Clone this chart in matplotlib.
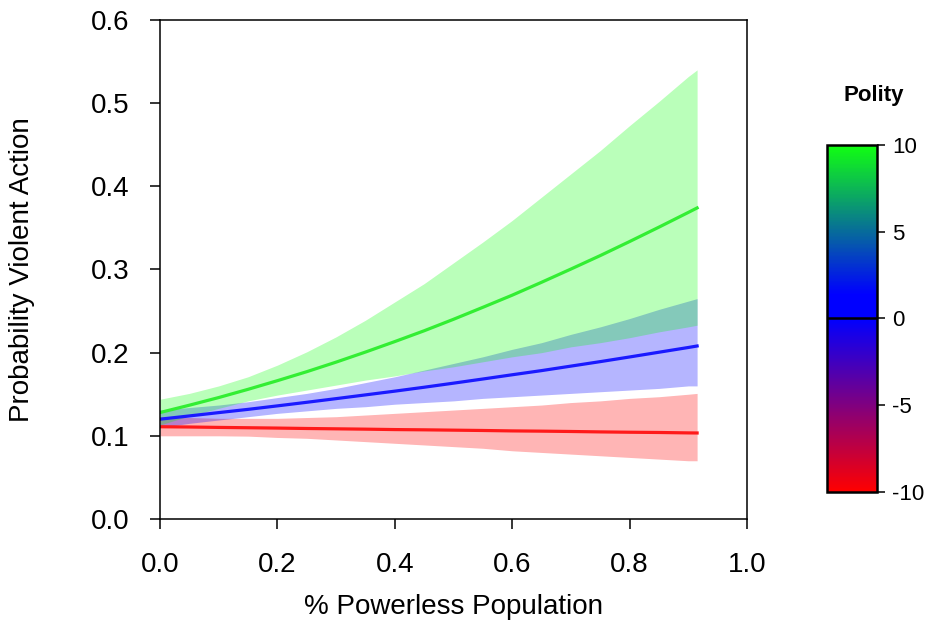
import numpy as np
import matplotlib
matplotlib.use("Agg")
import matplotlib.pyplot as plt
from matplotlib.colors import LinearSegmentedColormap, Normalize
from matplotlib.cm import ScalarMappable

plt.rcParams['font.family'] = ['Liberation Sans', 'DejaVu Sans']

# % powerless population
x = [0.0, 0.05, 0.1, 0.15, 0.2, 0.25, 0.3, 0.35, 0.4, 0.45, 0.5,
     0.55, 0.6, 0.65, 0.7, 0.75, 0.8, 0.85, 0.9, 0.915]

# polity = -10 (vermelho)
red_mid = [0.1109, 0.1106, 0.1101, 0.1097, 0.1093, 0.1088, 0.1084, 0.1080, 0.1075, 0.1072,
           0.1068, 0.1064, 0.1059, 0.1056, 0.1052, 0.1047, 0.1043, 0.1040, 0.1035, 0.1034]
red_lo = [0.100, 0.100, 0.100, 0.0996, 0.098, 0.097, 0.095, 0.093, 0.091, 0.089, 0.087,
          0.085, 0.082, 0.080, 0.078, 0.076, 0.074, 0.072, 0.070, 0.070]
red_hi = [0.123, 0.122, 0.121, 0.121, 0.121, 0.122, 0.123, 0.125, 0.127, 0.129, 0.131,
          0.133, 0.135, 0.137, 0.140, 0.142, 0.145, 0.147, 0.150, 0.151]

# polity = 0 (azul)
blue_mid = [0.1200, 0.1239, 0.1279, 0.1318, 0.1360, 0.1403, 0.1447, 0.1492, 0.1537, 0.1584,
            0.1633, 0.1683, 0.1734, 0.1784, 0.1838, 0.1892, 0.1948, 0.2005, 0.2062, 0.2080]
blue_lo = [0.110, 0.115, 0.119, 0.123, 0.127, 0.130, 0.133, 0.135, 0.138, 0.140, 0.142,
           0.145, 0.147, 0.149, 0.151, 0.153, 0.155, 0.157, 0.160, 0.160]
blue_hi = [0.131, 0.134, 0.137, 0.141, 0.146, 0.151, 0.157, 0.164, 0.171, 0.179, 0.187,
           0.195, 0.204, 0.212, 0.222, 0.231, 0.241, 0.252, 0.262, 0.265]

# polity = 10 (verde)
green_mid = [0.1280, 0.1368, 0.1460, 0.1559, 0.1663, 0.1771, 0.1886, 0.2007, 0.2133, 0.2263,
             0.2401, 0.2545, 0.2691, 0.2846, 0.3005, 0.3167, 0.3336, 0.3509, 0.3686, 0.3740]
green_lo = [0.113, 0.124, 0.133, 0.142, 0.149, 0.155, 0.161, 0.167, 0.172, 0.178, 0.183,
            0.189, 0.195, 0.200, 0.207, 0.212, 0.218, 0.225, 0.231, 0.233]
green_hi = [0.144, 0.151, 0.160, 0.171, 0.185, 0.201, 0.219, 0.239, 0.261, 0.283, 0.308,
            0.333, 0.359, 0.387, 0.415, 0.443, 0.473, 0.502, 0.532, 0.540]

x_ticks = [0.0, 0.2, 0.4, 0.6, 0.8, 1.0]
y_ticks = [0.0, 0.1, 0.2, 0.3, 0.4, 0.5, 0.6]
cb_ticks = [-10, -5, 0, 5, 10]

fig = plt.figure(figsize=(9.26, 6.28), dpi=100)
ax = fig.add_axes([0.1728, 0.1736, 0.6339, 0.7946])

# bandas de confiança
ax.fill_between(x, red_lo, red_hi, color='#ff0000', alpha=0.29, lw=0)
ax.fill_between(x, blue_lo, blue_hi, color='#0000ff', alpha=0.29, lw=0)
ax.fill_between(x, green_lo, green_hi, color='#00ff00', alpha=0.27, lw=0)

ax.plot(x, red_mid, color='#ff1a1a', lw=2.3)
ax.plot(x, blue_mid, color='#1a1aff', lw=2.3)
ax.plot(x, green_mid, color='#33ee33', lw=2.3)

ax.set_xlim(0, 1.0)
ax.set_ylim(0, 0.6)
ax.set_xticks(x_ticks)
ax.set_yticks(y_ticks)
ax.set_xticklabels([f"{t:.1f}" for t in x_ticks])
ax.set_yticklabels([f"{t:.1f}" for t in y_ticks])
ax.tick_params(axis='both', direction='out', length=7, width=1.1, labelsize=20)
ax.tick_params(axis='x', pad=17)
ax.tick_params(axis='y', pad=15)
for s in ax.spines.values():
    s.set_linewidth(1.1)

fig.text(453.5 / 926, 1 - 607 / 628, '% Powerless Population', fontsize=20,
         ha='center', va='center')
fig.text(22 / 926, 1 - 269.5 / 628, 'Probability Violent Action', fontsize=20,
         ha='center', va='center', rotation=90)

# barra de cores (Polity)
cmap = LinearSegmentedColormap.from_list(
    'polity', [(0.0, '#ff0000'), (0.5, '#0000ff'), (0.57, '#0000ff'), (1.0, '#11ff11')])
cax = fig.add_axes([0.893, 0.2166, 0.054, 0.5525])
cb = fig.colorbar(ScalarMappable(norm=Normalize(-10, 10), cmap=cmap), cax=cax, ticks=cb_ticks)
cb.outline.set_linewidth(1.8)
cax.axhline(0, color='black', lw=1.8)
cax.tick_params(direction='out', length=6, width=1.1, labelsize=16, pad=5)
cax.set_yticklabels([str(t) for t in cb_ticks])
fig.text(874 / 926, 1 - 95 / 628, 'Polity', fontsize=16, fontweight='bold',
         ha='center', va='center')

fig.savefig('out.png', dpi=100)
